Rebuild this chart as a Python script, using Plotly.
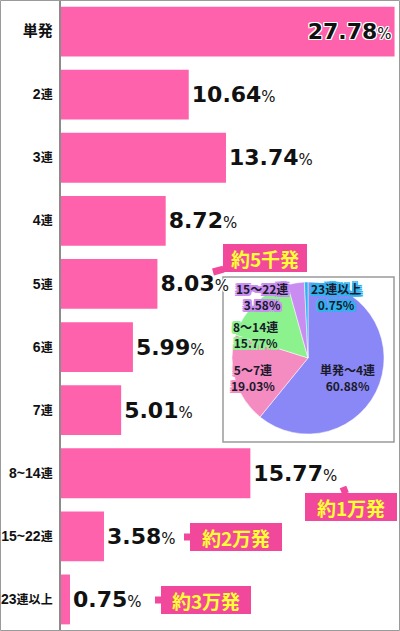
import plotly.graph_objects as go

# bar data (share of hits by streak length, %)
categories = ["単発", "2連", "3連", "4連", "5連", "6連", "7連", "8~14連", "15~22連", "23連以上"]
shares = [27.78, 10.64, 13.74, 8.72, 8.03, 5.99, 5.01, 15.77, 3.58, 0.75]

# pie data (grouped)
pie_labels = ["単発～4連", "5～7連", "8～14連", "15～22連", "23連以上"]
pie_values = [60.88, 19.03, 15.77, 3.58, 0.75]
pie_colors = ["#8a88f6", "#f48cc2", "#8cf28e", "#c98df2", "#2fb3f0"]

# callouts: which bar they point at, and the text
callout_cats = ["5連", "8~14連", "15~22連", "23連以上"]
callout_texts = ["約5千発", "約1万発", "約2万発", "約3万発"]

W, H = 400, 631
ML, MR, MT, MB = 61, 4, 0, 0
PW, PH = W - ML - MR, H - MT - MB


def px(x):
    return (x - ML) / PW


def py(y):
    return (H - MB - y) / PH


def tick_label(s):
    # digits a bit bigger than the kanji (like the original)
    if not any(c.isdigit() for c in s):
        return f"<b><span style='font-size:15px'>{s}</span></b>"
    out = ""
    for c in s:
        if c.isascii():
            out += f"<span style='font-size:14px'>{c}</span>"
        else:
            out += f"<span style='font-size:12px'>{c}</span>"
    return f"<b>{out}</b>"


def outline(c, w=1):
    return ", ".join(f"{dx}px {dy}px 0 {c}" for dx, dy in
                     [(w, 0), (-w, 0), (0, w), (0, -w), (w, w), (-w, -w), (w, -w), (-w, w)])


bar_text = [f"<b>{v:.2f}</b><span style='font-size:15px'>%</span>" for v in shares]
text_pos = ["inside"] + ["outside"] * (len(shares) - 1)

fig = go.Figure()

fig.add_trace(go.Bar(
    x=shares,
    y=categories,
    orientation="h",
    marker=dict(color="#ff62ad", line=dict(width=0)),
    text=bar_text,
    textposition=text_pos,
    insidetextanchor="end",
    textfont=dict(family="DejaVu Sans", size=22, color="#111111",
                  shadow=outline("#ffffff", 1)),
    cliponaxis=False,
    hoverinfo="skip",
    showlegend=False,
))

# pie inset
fig.add_trace(go.Pie(
    labels=pie_labels,
    values=pie_values,
    sort=False,
    direction="clockwise",
    rotation=0,
    marker=dict(colors=pie_colors, line=dict(color="#ffffff", width=0.5)),
    textinfo="none",
    hoverinfo="skip",
    domain=dict(x=[px(232), px(384)], y=[py(434), py(282)]),
    showlegend=False,
))

shapes = [
    # box around the pie
    dict(type="rect", xref="paper", yref="paper",
         x0=px(223), x1=px(394), y0=py(442), y1=py(277),
         line=dict(color="#9a9a9a", width=1.5), fillcolor="rgba(0,0,0,0)", layer="below"),
    # outer frame
    dict(type="rect", xref="paper", yref="paper",
         x0=px(0.5), x1=px(399.5), y0=py(630.5), y1=py(0.5),
         line=dict(color="#9a9a9a", width=1), fillcolor="rgba(0,0,0,0)"),
]

annotations = []

# pie labels (pixel positions of each label centre)
pie_label_pos = [(347, 377), (253, 377), (255, 334), (262, 297), (336, 297)]
for lab, val, col, (lx, ly) in zip(pie_labels, pie_values, pie_colors, pie_label_pos):
    annotations.append(dict(
        xref="paper", yref="paper", x=px(lx), y=py(ly),
        xanchor="center", yanchor="middle",
        text=f"<b>{lab}<br>{val:.2f}%</b>", showarrow=False,
        font=dict(family="Noto Sans CJK JP", size=12, color="#1a1a2a",
                  shadow=outline(col, 2)),
        align="center",
    ))

# callout bubbles: tip position, box offset, box width
callout_geom = [((213, 272), (52, -14), 80), ((343, 487), (8, 20), 88),
                ((184, 537), (52, 0), 88), ((155, 600), (51, 0), 86)]
for cat, txt, ((tx, ty), (ax, ay), bw) in zip(callout_cats, callout_texts, callout_geom):
    annotations.append(dict(
        xref="paper", yref="paper", x=px(tx), y=py(ty),
        ax=ax, ay=ay, axref="pixel", ayref="pixel",
        text=f"<b>{txt}</b>", showarrow=True, arrowhead=0, arrowwidth=7,
        arrowcolor="#f2489c", standoff=0,
        width=bw, height=24,
        bgcolor="#f2489c", bordercolor="#f2489c", borderpad=1,
        font=dict(family="Noto Sans CJK JP", size=19, color="#ffff33"),
    ))

fig.update_layout(
    width=W, height=H,
    margin=dict(l=ML, r=MR, t=MT, b=MB, autoexpand=False),
    paper_bgcolor="#ffffff", plot_bgcolor="#ffffff",
    bargap=0.21,
    shapes=shapes,
    annotations=annotations,
    uniformtext=dict(minsize=8, mode="show"),
)

fig.update_xaxes(range=[0, 27.9], visible=False, fixedrange=True, automargin=False)
fig.update_yaxes(
    autorange="reversed", automargin=False,
    tickmode="array", tickvals=categories, ticktext=[tick_label(c) for c in categories],
    tickfont=dict(family="Liberation Sans, Noto Sans CJK JP", size=13, color="#111111",
                  weight="bold"),
    showline=True, linecolor="#8c8c8c", linewidth=1.5,
    showgrid=False, ticks="", ticklabelstandoff=4, fixedrange=True,
)

# browser default body margin would shift the whole chart by 8px
fig.write_html("out.html", config=dict(displayModeBar=False),
               post_script="document.body.style.margin='0';")
